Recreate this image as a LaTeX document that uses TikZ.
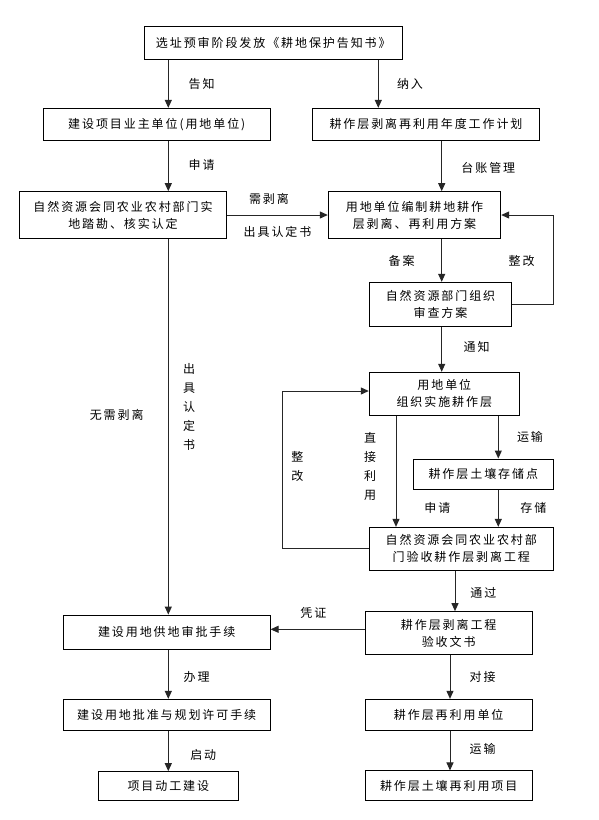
\documentclass[tikz,border=0pt]{standalone}
\usepackage{fontspec}
\newfontfamily\zhfont[LetterSpace=16]{Noto Sans CJK SC}
\usetikzlibrary{arrows.meta}
\begin{document}
\begin{tikzpicture}[x=1pt,y=-1pt,
  box/.style={draw=black, line width=1pt, inner sep=0pt, align=center,
    font=\zhfont\fontsize{12}{17}\selectfont},
  lab/.style={inner sep=0pt, align=center, font=\zhfont\fontsize{12}{17}\selectfont},
  vlab/.style={inner sep=0pt, align=center, font=\zhfont\fontsize{12}{19}\selectfont},
  arr/.style={draw=black!85, line width=1pt, -{Triangle[length=8pt,width=7pt]}},
  ln/.style={draw=black!85, line width=1pt}]
\path[use as bounding box, fill=white] (0,0) rectangle (599,820);

% nodes
\node[box, minimum width=258pt, minimum height=32.6pt] (n1) at (273.3,43) {选址预审阶段发放《耕地保护告知书》};
\node[box, minimum width=226.7pt, minimum height=31.7pt] (n2) at (156.7,124.2) {建设项目业主单位(用地单位)};
\node[box, minimum width=226.6pt, minimum height=31.7pt] (n3) at (426,124.2) {耕作层剥离再利用年度工作计划};
\node[box, minimum width=207.4pt, minimum height=46.6pt] (n4) at (123,215) {自然资源会同农业农村部门实\\地踏勘、核实认定};
\node[box, minimum width=172.4pt, minimum height=46.6pt] (n5) at (414.5,215) {用地单位编制耕地耕作\\层剥离、再利用方案};
\node[box, minimum width=142.4pt, minimum height=43.7pt] (n6) at (440.5,304.2) {自然资源部门组织\\审查方案};
\node[box, minimum width=150pt, minimum height=43pt] (n7) at (444.3,393.8) {用地单位\\组织实施耕作层};
\node[box, minimum width=140pt, minimum height=30pt] (n8) at (483.3,474) {耕作层土壤存储点};
\node[box, minimum width=184pt, minimum height=42.7pt] (n9) at (461.3,548.7) {自然资源会同农业农村部\\门验收耕作层剥离工程};
\node[box, minimum width=167.3pt, minimum height=43.3pt] (n10) at (448.7,633.3) {耕作层剥离工程\\验收文书};
\node[box, minimum width=167.3pt, minimum height=30.7pt] (n11) at (448.7,714.7) {耕作层再利用单位};
\node[box, minimum width=167.3pt, minimum height=29.7pt] (n12) at (448.7,785.8) {耕作层土壤再利用项目};
\node[box, minimum width=206.7pt, minimum height=34.3pt] (n13) at (166.7,632.2) {建设用地供地审批手续};
\node[box, minimum width=206.7pt, minimum height=30.7pt] (n14) at (166.7,714.7) {建设用地批准与规划许可手续};
\node[box, minimum width=140pt, minimum height=29pt] (n15) at (168.3,786.2) {项目动工建设};

% connectors
\draw[arr] (168.3,0 |- n1.south) -- (168.3,0 |- n2.north);
\draw[arr] (378.3,0 |- n1.south) -- (378.3,0 |- n3.north);
\draw[arr] (168.3,0 |- n2.south) -- (168.3,0 |- n4.north);
\draw[arr] (441.7,0 |- n3.south) -- (441.7,0 |- n5.north);
\draw[arr] (n4.east) -- (n5.west);
\draw[arr] (441.7,0 |- n5.south) -- (441.7,0 |- n6.north);
\draw[arr] (n6.east) -- (553.3,0 |- n6.east) -- (553.3,0 |- n5.east) -- (n5.east);
\draw[arr] (441.7,0 |- n6.south) -- (441.7,0 |- n7.north);
\draw[arr] (396,0 |- n7.south) -- (396,0 |- n9.north);
\draw[arr] (498.3,0 |- n7.south) -- (498.3,0 |- n8.north);
\draw[arr] (498.3,0 |- n8.south) -- (498.3,0 |- n9.north);
\draw[arr] (n9.west) -- (282.3,0 |- n9.west) -- (282.3,391) -- (n7.west |- 0,391);
\draw[arr] (455,0 |- n9.south) -- (455,0 |- n10.north);
\draw[arr] (n10.west |- 0,629.3) -- (n13.east |- 0,629.3);
\draw[arr] (168.3,0 |- n4.south) -- (168.3,0 |- n13.north);
\draw[arr] (168.3,0 |- n13.south) -- (168.3,0 |- n14.north);
\draw[arr] (168.3,0 |- n14.south) -- (168.3,0 |- n15.north);
\draw[arr] (450,0 |- n10.south) -- (450,0 |- n11.north);
\draw[arr] (450,0 |- n11.south) -- (450,0 |- n12.north);

% labels
\node[lab] (l1) at (201.7,84.3) {告知};
\node[lab] (l2) at (410,84) {纳入};
\node[lab] (l3) at (201.7,165) {申请};
\node[lab] (l4) at (488.3,168.3) {台账管理};
\node[lab] (l5) at (269,199.3) {需剥离};
\node[lab] (l6) at (277.5,232.3) {出具认定书};
\node[lab] (l7) at (401.7,261) {备案};
\node[lab] (l8) at (521.7,261) {整改};
\node[lab] (l9) at (476.7,346.7) {通知};
\node[vlab] (l10) at (370,466) {直\\接\\利\\用};
\node[lab] (l11) at (437.3,508.3) {申请};
\node[lab] (l12) at (530,437.3) {运输};
\node[lab] (l13) at (533.3,508.3) {存储};
\node[vlab] (l14) at (297.3,466.7) {整\\改};
\node[lab] (l15) at (483.3,593.3) {通过};
\node[lab] (l16) at (313.3,613.3) {凭证};
\node[lab] (l17) at (116.7,415) {无需剥离};
\node[vlab] (l18) at (189,406.7) {出\\具\\认\\定\\书};
\node[lab] (l19) at (196.7,676.7) {办理};
\node[lab] (l20) at (203.3,755) {启动};
\node[lab] (l21) at (482.7,676.7) {对接};
\node[lab] (l22) at (482.7,749.3) {运输};
\end{tikzpicture}
\end{document}
